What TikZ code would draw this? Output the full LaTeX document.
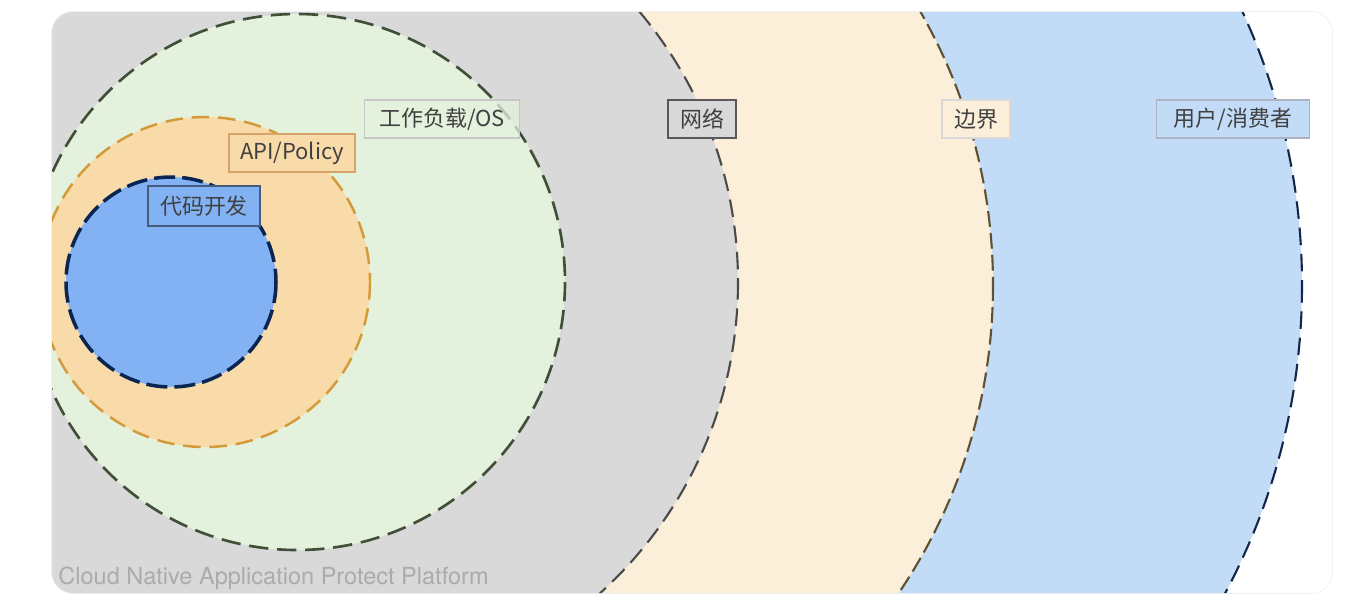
\documentclass[tikz,border=0pt]{standalone}
\usepackage{fontspec}
\setmainfont{TeX Gyre Heros}
\newfontfamily\cjk{Noto Sans CJK SC}
\usetikzlibrary{positioning}

\definecolor{panelgray}{HTML}{D9D9D9}
\definecolor{edgecream}{HTML}{FBEFD9}
\definecolor{userblue}{HTML}{C2DCF8}
\definecolor{loadgreen}{HTML}{E4F1DC}
\definecolor{apiorange}{HTML}{F8DBA9}
\definecolor{codeblue}{HTML}{82B2F3}
\definecolor{loadline}{HTML}{3F4F38}
\definecolor{apiline}{HTML}{D49A3A}
\definecolor{codeline}{HTML}{0A2552}
\definecolor{netline}{HTML}{4A4A4A}
\definecolor{edgeline}{HTML}{5E5232}
\definecolor{userline}{HTML}{14264A}

\tikzset{
  ring/.style={line width=1.2pt, dash pattern=on 10pt off 5pt},
  tag/.style={rectangle, draw, line width=0.6pt, minimum height=0.76cm, inner sep=2pt,
    text=black!75, font=\cjk\fontsize{12.5}{14}\selectfont}
}

\begin{document}
\begin{tikzpicture}[x=0.02cm, y=-0.02cm]
\useasboundingbox (0,0) rectangle (1362,610);
\fill[white] (0,0) rectangle (1362,610);
\draw[black!6, line width=1pt, rounded corners=12] (52,12) rectangle (1332,593);
\begin{scope}
\clip[rounded corners=12] (52,12) rectangle (1332,593);
\fill[white] (52,12) rectangle (1332,593);
% rings, outside in
\filldraw[ring, fill=userblue, draw=userline] (647,285) circle (655);
\filldraw[ring, fill=edgecream, draw=edgeline, dash pattern=on 9pt off 3.5pt] (443,285) circle (550);
\filldraw[ring, fill=panelgray, draw=netline] (318,282) circle (420);
\filldraw[ring, fill=loadgreen, draw=loadline, line width=1.5pt, dash pattern=on 11pt off 5pt] (297,282) circle (268);
\filldraw[ring, fill=apiorange, draw=apiline, line width=1.4pt] (205,282) circle (165);
\filldraw[ring, fill=codeblue, draw=codeline, line width=2pt, dash pattern=on 12pt off 4pt] (171,282) circle (105);
\end{scope}

\node[tag, fill=loadgreen, fill opacity=0.75, text opacity=1, draw=black!22, minimum width=3.1cm] (load) at (442,119) {工作负载/OS};
\node[tag, fill=apiorange, draw=brown!60!apiorange, minimum width=2.52cm] (api) at (292,153) {API/Policy};
\node[tag, fill=codeblue, draw=codeline!75, minimum width=2.24cm, minimum height=0.8cm] (code) at (204,206) {代码开发};
\node[tag, fill=panelgray, draw=black!65, minimum width=1.36cm] (net) at (702,119) {网络};
\node[tag, fill=edgecream, draw=black!15, minimum width=1.36cm] (edge) at (976,119) {边界};
\node[tag, fill=userblue, draw=userline!35, minimum width=3.06cm] (user) at (1233,119) {用户/消费者};

\node[anchor=base west, inner sep=0, text=black!33, font=\fontsize{13.4}{15}\selectfont] (cnapp) at (58,584) {Cloud Native Application Protect Platform};
\end{tikzpicture}
\end{document}
